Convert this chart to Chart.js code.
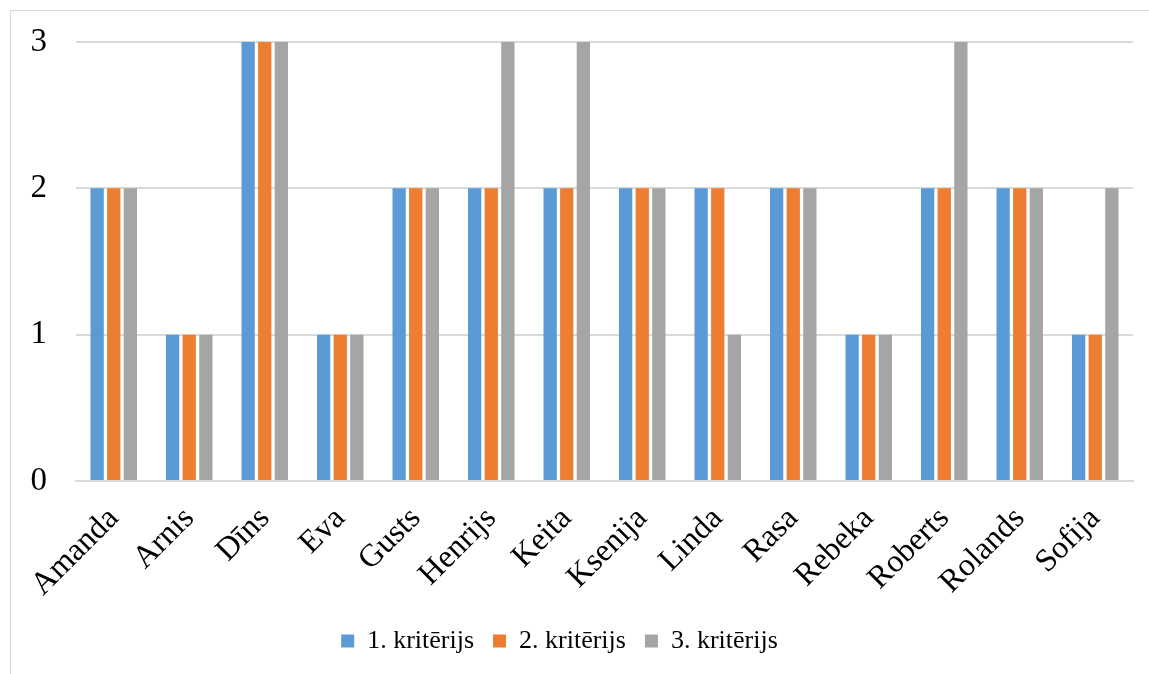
<!DOCTYPE html>
<html>
<head>
<meta charset="utf-8">
<script src="https://cdn.jsdelivr.net/npm/chart.js@4/dist/chart.umd.min.js"></script>
<style>
  html, body { margin: 0; padding: 0; background: #ffffff; }
  body { width: 1149px; height: 674px; position: relative; overflow: hidden; }
  #frame { position: absolute; left: 10px; top: 10px; width: 1160px; height: 700px; border: 1px solid #d9d9d9; box-sizing: border-box; }
  #wrap { position: absolute; left: 0; top: 0; width: 1149px; height: 674px; }
</style>
</head>
<body>
<div id="frame"></div>
<div id="wrap"><canvas id="chart"></canvas></div>
<script>
// Scores per student for each criterion
const students = ["Amanda", "Arnis", "Dīns", "Eva", "Gusts", "Henrijs", "Keita", "Ksenija", "Linda", "Rasa", "Rebeka", "Roberts", "Rolands", "Sofija"];
const criterion1 = [2, 1, 3, 1, 2, 2, 2, 2, 2, 2, 1, 2, 2, 1];
const criterion2 = [2, 1, 3, 1, 2, 2, 2, 2, 2, 2, 1, 2, 2, 1];
const criterion3 = [2, 1, 3, 1, 2, 3, 3, 2, 1, 2, 1, 3, 2, 2];
const seriesNames = ["1. kritērijs", "2. kritērijs", "3. kritērijs"];
const yTicks = [0, 1, 2, 3];

const serif = '"Liberation Serif", "Times New Roman", Times, serif';
const colors = ["#5b9bd5", "#ed7d31", "#a5a5a5"];

// Centre the legend under the whole frame rather than the plot area
const legendShift = {
  id: "legendShift",
  afterLayout(chart) {
    if (chart.legend) {
      chart.legend.left -= 12;
      chart.legend.right -= 12;
    }
  }
};

new Chart(document.getElementById("chart"), {
  type: "bar",
  data: {
    labels: students,
    datasets: [criterion1, criterion2, criterion3].map((vals, i) => ({
      label: seriesNames[i],
      data: vals,
      backgroundColor: colors[i],
      borderWidth: 0,
      categoryPercentage: 0.66,
      barPercentage: 0.8
    }))
  },
  plugins: [legendShift],
  options: {
    responsive: true,
    maintainAspectRatio: false,
    animation: false,
    layout: { padding: { left: 10, right: 16, top: 42, bottom: 10 } },
    scales: {
      x: {
        grid: { display: false, drawTicks: false },
        border: { color: "#d9d9d9", width: 2 },
        ticks: {
          color: "#000000",
          font: { family: serif, size: 32 },
          minRotation: 45,
          maxRotation: 45,
          padding: 19,
          autoSkip: false
        },
        afterFit: (axis) => {
          axis.height = 128;
          axis.paddingLeft = 0;
          axis.paddingRight = 0;
        }
      },
      y: {
        min: 0,
        max: 3,
        afterBuildTicks: (axis) => { axis.ticks = yTicks.map(v => ({ value: v })); },
        grid: { color: "#d9d9d9", lineWidth: 2, drawTicks: false },
        border: { display: false },
        ticks: {
          color: "#000000",
          font: { family: serif, size: 33 },
          padding: 29
        },
        afterFit: (axis) => {
          axis.width = 66;
          axis.paddingTop = 0;
          axis.paddingBottom = 0;
        }
      }
    },
    plugins: {
      legend: {
        position: "bottom",
        labels: {
          color: "#000000",
          font: { family: serif, size: 26 },
          boxWidth: 13,
          boxHeight: 13,
          padding: 19
        }
      },
      tooltip: { enabled: false }
    }
  }
});
</script>
</body>
</html>
